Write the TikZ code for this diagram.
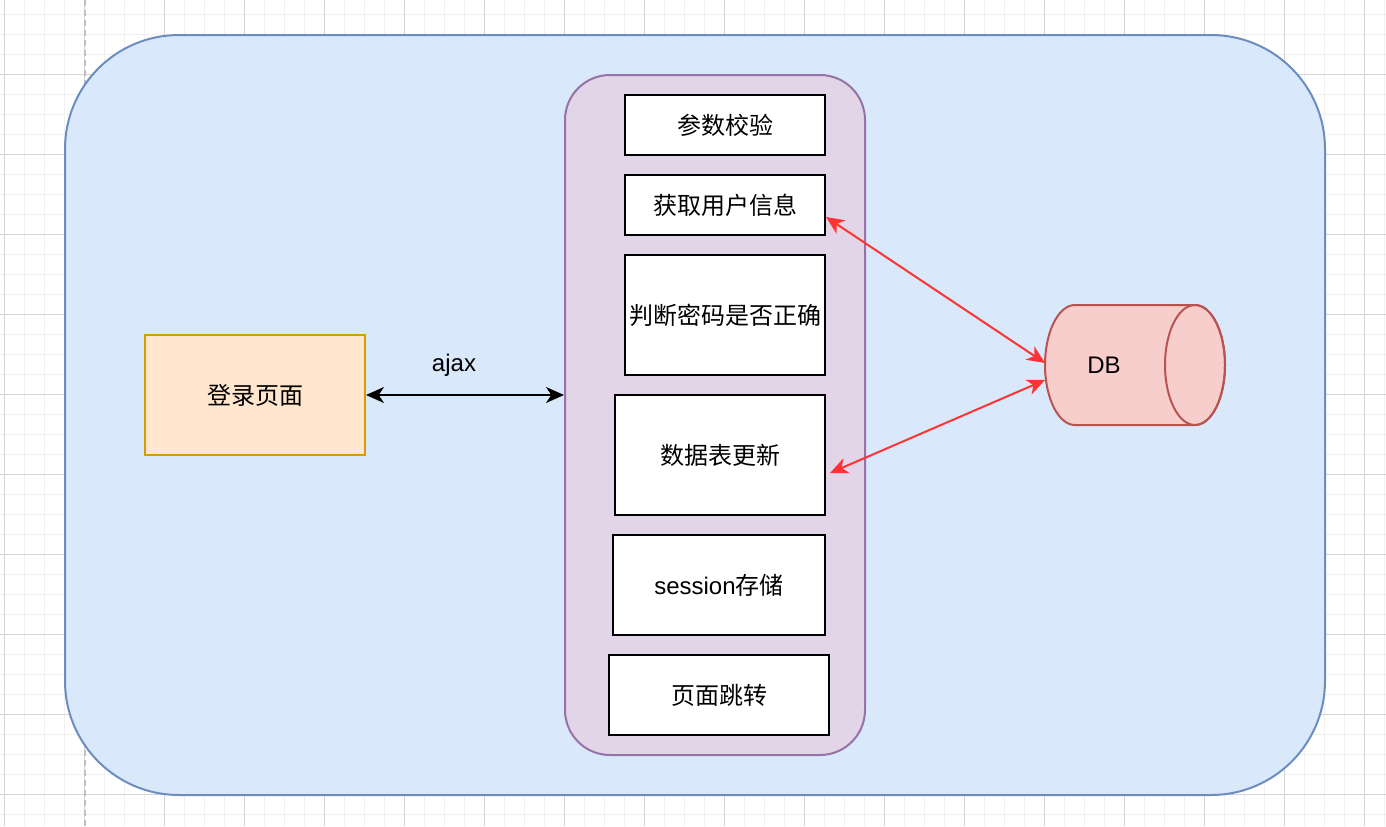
\documentclass[tikz,border=0pt]{standalone}
\usepackage{fontspec}
\setmainfont{Liberation Sans}
\newfontfamily\cjk{Noto Sans CJK SC}
\usetikzlibrary{arrows.meta,calc}
\definecolor{gridminor}{HTML}{F0F0F0}
\definecolor{gridmajor}{HTML}{D4D4D4}
\definecolor{outerfill}{HTML}{DAE8FC}
\definecolor{outerdraw}{HTML}{6C8EBF}
\definecolor{purfill}{HTML}{E1D5E7}
\definecolor{purdraw}{HTML}{9673A6}
\definecolor{orfill}{HTML}{FFE6CC}
\definecolor{ordraw}{HTML}{D79B00}
\definecolor{dbfill}{HTML}{F8CECC}
\definecolor{dbdraw}{HTML}{B85450}
\definecolor{redline}{HTML}{FF3333}
\tikzset{
  wbox/.style={draw=black, fill=white, line width=1.5pt, inner sep=0pt,
    font=\cjk\fontsize{18}{22}\selectfont},
  lbl/.style={inner sep=0pt, font=\fontsize{18}{22}\selectfont},
  biarrow/.style={line width=1.5pt, {Stealth[length=13.5pt, width=12pt, inset=4pt]}-{Stealth[length=13.5pt, width=12pt, inset=4pt]}},
}
\begin{document}
\begin{tikzpicture}[x=0.75pt, y=-0.75pt]
\useasboundingbox (0,0) rectangle (1386,826);
\fill[white] (0,0) rectangle (1386,826);
% grid
\foreach \gx in {4,24,...,1384} \draw[gridminor, line width=0.75pt] (\gx,0) -- (\gx,826);
\foreach \gy in {14,34,...,814} \draw[gridminor, line width=0.75pt] (0,\gy) -- (1386,\gy);
\foreach \gx in {4,84,...,1384} \draw[gridmajor, line width=0.75pt] (\gx,0) -- (\gx,826);
\foreach \gy in {74,154,...,814} \draw[gridmajor, line width=0.75pt] (0,\gy) -- (1386,\gy);
\draw[gray!50, line width=1.5pt, dash pattern=on 4.5pt off 3pt] (85,0) -- (85,826);
% containers
\node[draw=outerdraw, fill=outerfill, line width=1.5pt, rounded corners=85.5pt,
  minimum width=945pt, minimum height=570pt, inner sep=0pt] (outer) at (695,415) {};
\node[draw=purdraw, fill=purfill, line width=1.5pt, rounded corners=33.75pt,
  minimum width=225pt, minimum height=510pt, inner sep=0pt] (svc) at (715,415) {};
% steps
\node[wbox, minimum width=150pt, minimum height=45pt] (p1) at (725,125) {参数校验};
\node[wbox, minimum width=150pt, minimum height=45pt] (p2) at (725,205) {获取用户信息};
\node[wbox, minimum width=150pt, minimum height=90pt] (p3) at (725,315) {判断密码是否正确};
\node[wbox, minimum width=157.5pt, minimum height=90pt] (p4) at (720,455) {数据表更新};
\node[wbox, minimum width=159pt, minimum height=75pt] (p5) at (719,585) {\fontspec{Liberation Sans}session{\cjk 存储}};
\node[wbox, minimum width=165pt, minimum height=60pt] (p6) at (719,695) {页面跳转};
% login
\node[draw=ordraw, fill=orfill, line width=1.5pt, inner sep=0pt,
  minimum width=165pt, minimum height=90pt, font=\cjk\fontsize{18}{22}\selectfont] (login) at (255,395) {登录页面};
% DB cylinder
\draw[draw=dbdraw, fill=dbfill, line width=1.5pt]
  (1075,305) arc[start angle=270, end angle=90, x radius=30, y radius=60]
  -- (1195,425) arc[start angle=90, end angle=-90, x radius=30, y radius=60] -- cycle;
\draw[draw=dbdraw, line width=1.5pt] (1195,365) ellipse[x radius=30, y radius=60];
\node[lbl] (db) at (1104,365) {DB};
\coordinate (dbA) at (1045,363);
\coordinate (dbB) at (1045,380);
\coordinate (p2r) at (826,217);
\coordinate (p4r) at (830,473);
% connectors
\draw[biarrow, black] (login.east) -- (login.east -| svc.west);
\node[lbl] (ajax) at (454,365) {ajax};
\draw[biarrow, redline] (p2r) -- (dbA);
\draw[biarrow, redline] (p4r) -- (dbB);
\end{tikzpicture}
\end{document}
